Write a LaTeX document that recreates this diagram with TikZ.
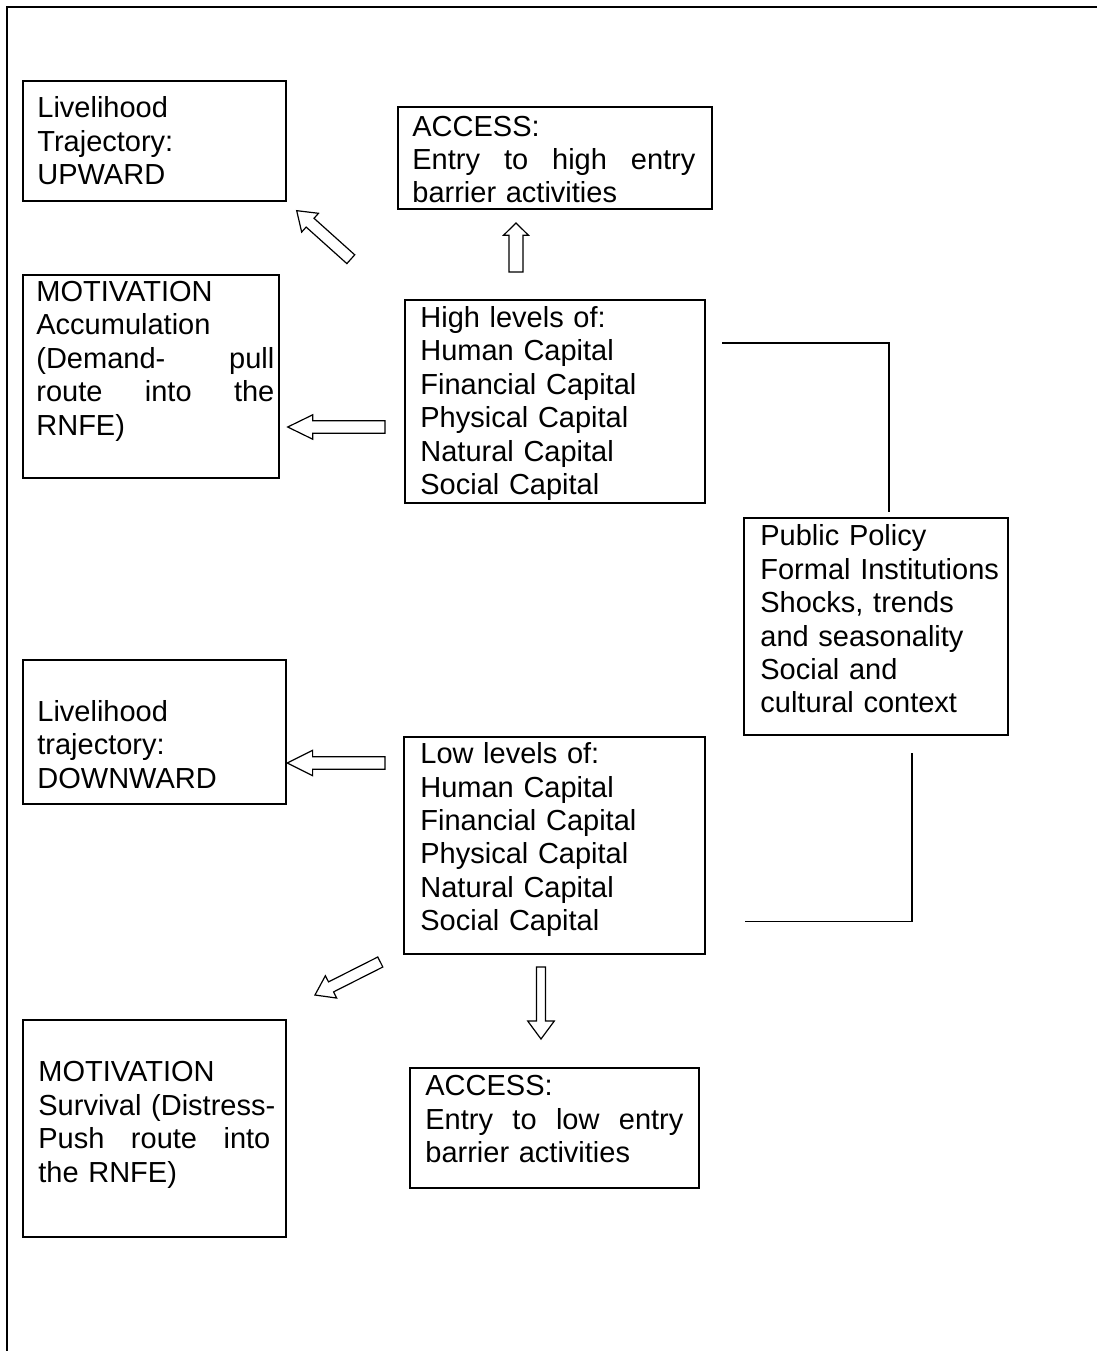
\documentclass[tikz,border=0pt]{standalone}
\usepackage{fontspec}
\setmainfont{Liberation Sans}
\usetikzlibrary{calc}
\tikzset{
  boxnode/.style={draw, line width=1.1pt, inner sep=0pt, anchor=north west},
  txt/.style={anchor=north west, inner sep=0pt, align=left, font=\fontsize{14.5pt}{16.7pt}\selectfont},
  conn/.style={line width=0.65pt},
  barrow/.style={draw, line width=0.6pt, fill=white, line join=miter},
  frame/.style={line width=1pt}
}
% box: name, x1, y1, x2, y2 (pixels, y downwards)
\newcommand\bx[5]{\node[boxnode, minimum width={(#4-#2)*0.5pt}, minimum height={(#5-#3)*0.5pt}] (#1) at (#2,#3) {};}
% text: name, x, first baseline, width, content
\newcommand\tx[5]{\node[txt, text width={#4*0.5pt}] (#1) at (#2,{#3-24}) {\rule{0pt}{12pt}#5};}
% justified line
\newcommand\jl[2]{\makebox[#1pt][l]{#2}}
% block arrow: tail x, tail y, angle, length, shaft half, head half, head length
\newcommand\blockarr[7]{\draw[barrow, shift={(#1,#2)}, rotate=#3] (0,-#5) -- ({#4-#7},-#5) -- ({#4-#7},-#6) -- (#4,0) -- ({#4-#7},#6) -- ({#4-#7},#5) -- (0,#5) -- cycle;}
\begin{document}
\begin{tikzpicture}[x=0.5pt, y=-0.5pt]
\useasboundingbox (0,0) rectangle (1097,1351);
\draw[frame] (7,1351) -- (7,7) -- (1097,7);

% boxes
\bx{up}{22}{80}{285}{200}
\bx{acchi}{397}{106}{711}{208}
\bx{motacc}{22}{274}{278}{477}
\bx{high}{404}{299}{704}{502}
\bx{pp}{743}{517}{1007}{734}
\bx{down}{22}{659}{285}{803}
\bx{low}{403}{736}{704}{953}
\bx{surv}{22}{1019}{285}{1236}
\bx{acclo}{409}{1067}{698}{1187}

% texts
\tx{upT}{37}{117.3}{240}{Livelihood\\Trajectory:\\UPWARD}
\tx{acchiT}{412}{135.7}{290}{ACCESS:\\\jl{141.5}{Entry\hfill to\hfill high\hfill entry}\\barrier activities}
\tx{motaccT}{36}{301}{240}{MOTIVATION\\Accumulation\\\jl{119}{(Demand-\hfill pull}\\\jl{119}{route\hfill into\hfill the}\\RNFE)}
\tx{highT}{420}{327}{280}{High levels of:\\Human Capital\\Financial Capital\\Physical Capital\\Natural Capital\\Social Capital}
\tx{ppT}{760}{545.5}{245}{Public Policy\\Formal Institutions\\Shocks, trends\\and seasonality\\Social and\\cultural context}
\tx{downT}{37}{721}{240}{Livelihood\\trajectory:\\DOWNWARD}
\tx{lowT}{420}{763.3}{280}{Low levels of:\\Human Capital\\Financial Capital\\Physical Capital\\Natural Capital\\Social Capital}
\tx{survT}{38}{1081.5}{244}{MOTIVATION\\Survival (Distress-\\\jl{116}{Push\hfill route\hfill into}\\the RNFE)}
\tx{accloT}{425}{1095.5}{270}{ACCESS:\\\jl{129}{Entry\hfill to\hfill low\hfill entry}\\barrier activities}

% connectors
\draw[conn] ($(high.north east)+(16,44)$) -| ($(pp.north)+(13,-5)$);
\draw[conn] ($(pp.south)+(36,17)$) |- ($(low.south east)+(39,-34)$);

% block arrows
\blockarr{350.8}{259.2}{138.1}{72.7}{5.9}{12.6}{18}
\blockarr{516}{272}{90}{49}{7}{12.5}{12.3}
\blockarr{385}{427}{180}{97.3}{6.3}{12.2}{25}
\blockarr{385}{763}{180}{97.7}{6.3}{12.7}{25.3}
\blockarr{380.3}{962}{206.8}{73.2}{5.6}{12.5}{18}
\blockarr{541}{967}{270}{72}{4.5}{13.3}{18}
\end{tikzpicture}
\end{document}
